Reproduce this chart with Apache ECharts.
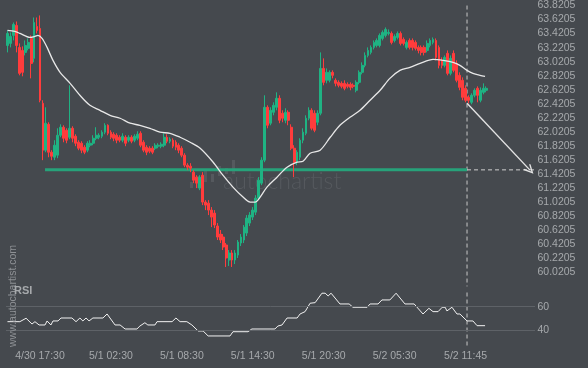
<!DOCTYPE html>
<html><head><meta charset="utf-8">
<script src="https://cdn.jsdelivr.net/npm/echarts@6/dist/echarts.min.js"></script>
<style>html,body{margin:0;padding:0;background:#45494e;}#c{width:588px;height:368px;}</style>
</head><body><div id="c"></div>
<script>
// [open, close, low, high]
const candles = [
[63.252,63.423,63.153,63.466],[63.281,63.380,63.224,63.437],[63.395,63.551,63.323,63.579],[63.537,63.252,63.153,63.593],[63.224,62.854,62.826,63.281],
[63.181,62.869,62.812,63.238],[63.153,63.252,63.110,63.323],[63.210,63.295,63.181,63.352],[63.352,62.996,62.783,63.395],[63.068,63.579,63.011,63.650],
[63.522,63.466,63.423,63.650],[63.494,62.471,62.442,63.679],[62.428,61.760,61.618,62.471],[61.760,62.144,61.731,62.371],[62.129,61.731,61.660,62.158],
[61.731,61.674,61.618,61.760],[61.660,61.831,61.618,61.902],[61.689,61.973,61.646,62.072],[61.973,62.087,61.944,62.129],[62.087,61.930,61.873,62.115],
[62.044,61.902,61.859,62.072],[61.944,62.072,61.916,62.684],[62.072,61.930,61.873,62.101],[61.959,61.859,61.817,61.987],[61.873,61.788,61.760,61.902],
[61.859,61.760,61.717,61.888],[61.802,61.731,61.703,61.831],[61.760,61.859,61.731,61.888],[61.831,61.859,61.802,61.902],[61.859,61.930,61.831,61.973],
[61.930,61.973,61.902,62.087],[61.944,61.973,61.916,62.001],[61.959,62.016,61.930,62.044],[62.016,62.115,61.987,62.144],[62.115,62.001,61.973,62.129],
[62.016,61.944,61.916,62.044],[61.987,61.930,61.888,62.016],[61.973,61.902,61.859,62.001],[61.944,61.902,61.873,61.973],[61.902,61.959,61.873,62.001],
[61.944,61.859,61.817,61.973],[61.902,61.944,61.873,61.973],[61.944,61.888,61.859,61.973],[61.902,61.959,61.873,61.987],[61.930,61.987,61.902,62.030],
[62.001,61.831,61.802,62.030],[61.873,61.760,61.731,61.902],[61.802,61.731,61.689,61.831],[61.788,61.746,61.717,61.817],[61.788,61.731,61.703,61.817],
[61.788,61.831,61.760,61.859],[61.817,61.831,61.788,61.859],[61.817,61.845,61.788,61.873],[61.831,61.944,61.802,62.001],[61.944,61.888,61.859,61.987],
[61.888,61.916,61.859,61.944],[61.902,61.817,61.788,61.930],[61.873,61.802,61.760,61.902],[61.831,61.760,61.717,61.859],[61.788,61.689,61.660,61.817],
[61.689,61.547,61.518,61.717],[61.547,61.518,61.476,61.575],[61.532,61.504,61.447,61.575],[61.447,61.333,61.291,61.476],[61.376,61.291,61.220,61.404],
[61.220,61.376,61.191,61.404],[61.404,61.021,60.978,61.447],[61.021,60.978,60.907,61.049],[61.006,60.907,60.836,61.049],[60.907,60.807,60.665,60.950],
[60.864,60.694,60.651,60.907],[60.680,60.523,60.481,60.722],[60.566,60.481,60.438,60.623],[60.523,60.381,60.338,60.566],[60.410,60.225,60.097,60.438],
[60.196,60.296,60.111,60.338],[60.296,60.196,60.097,60.338],[60.196,60.296,60.139,60.338],[60.267,60.452,60.225,60.481],[60.438,60.523,60.395,60.566],
[60.481,60.665,60.438,60.694],[60.580,60.793,60.537,60.836],[60.722,60.836,60.680,60.878],[60.807,60.907,60.765,60.950],[60.878,61.077,60.836,61.120],
[61.077,61.333,61.049,61.376],[61.291,61.618,61.262,61.660],[61.618,62.371,61.589,62.542],[62.371,62.115,62.072,62.399],[62.144,62.328,62.115,62.371],
[62.300,62.399,62.257,62.442],[62.371,62.499,62.328,62.584],[62.499,62.186,62.144,62.542],[62.286,62.215,62.158,62.328],[62.186,62.300,62.144,62.357],
[62.300,62.186,62.115,62.328],[62.087,61.788,61.760,62.129],[61.788,61.589,61.376,61.831],[61.589,61.731,61.547,61.760],[61.660,61.902,61.618,61.930],
[61.902,62.016,61.859,62.072],[62.001,62.215,61.973,62.257],[62.215,62.328,62.186,62.371],[62.328,62.072,62.044,62.357],[62.286,62.044,62.016,62.328],
[62.158,62.286,62.115,62.328],[62.286,62.925,62.257,63.153],[62.925,62.726,62.684,63.068],[62.755,62.869,62.712,62.925],[62.755,62.869,62.726,62.897],
[62.869,62.826,62.783,62.897],[62.755,62.712,62.669,62.783],[62.726,62.684,62.655,62.755],[62.712,62.669,62.641,62.740],[62.712,62.641,62.613,62.755],
[62.698,62.669,62.641,62.726],[62.698,62.655,62.613,62.726],[62.684,62.669,62.641,62.712],[62.613,62.726,62.584,62.755],[62.726,62.869,62.698,62.897],
[62.869,62.968,62.840,63.011],[62.968,63.110,62.940,63.153],[63.110,63.181,63.082,63.224],[63.153,63.224,63.124,63.252],[63.224,63.295,63.195,63.323],
[63.252,63.323,63.224,63.352],[63.252,63.395,63.224,63.423],[63.352,63.437,63.323,63.466],[63.395,63.480,63.366,63.508],[63.423,63.437,63.395,63.480],
[63.423,63.295,63.267,63.451],[63.323,63.380,63.295,63.409],[63.366,63.423,63.338,63.451],[63.423,63.281,63.252,63.451],[63.338,63.281,63.252,63.366],
[63.224,63.295,63.195,63.323],[63.323,63.224,63.195,63.352],[63.323,63.224,63.181,63.352],[63.295,63.210,63.181,63.323],[63.224,63.181,63.139,63.252],
[63.224,63.153,63.110,63.252],[63.224,63.153,63.110,63.252],[63.181,63.281,63.153,63.323],[63.252,63.323,63.224,63.352],[63.295,63.338,63.267,63.366],
[63.323,63.082,63.039,63.352],[63.224,62.968,62.925,63.252],[63.039,62.968,62.925,63.082],[62.968,63.082,62.940,63.110],[63.139,62.854,62.826,63.181],
[62.854,63.068,62.826,63.110],[63.139,62.897,62.869,63.181],[62.996,62.755,62.726,63.039],[62.826,62.655,62.613,62.869],[62.755,62.513,62.471,62.797],
[62.641,62.471,62.442,62.684],[62.513,62.471,62.428,62.542],[62.442,62.542,62.414,62.570],[62.542,62.613,62.513,62.641],[62.641,62.542,62.442,62.669],
[62.471,62.613,62.442,62.655],[62.584,62.641,62.556,62.712],[62.613,62.641,62.584,62.669]
];

// moving average: [bar index, value]
const maPoints = [
[0,63.466],[2.5,63.451],[4.2,63.423],[7.6,63.366],[9.3,63.380],[10.3,63.395],[11.7,63.352],[13.4,63.224],[15.4,63.039],[17.8,62.869],
[21.2,62.712],[24.5,62.542],[27.9,62.399],[31.3,62.328],[34.7,62.257],[38.1,62.215],[41.5,62.144],[44.8,62.115],[48.2,62.072],[51.6,62.016],
[55.0,62.001],[58.4,61.944],[61.8,61.873],[65.2,61.788],[69.6,61.589],[72.9,61.404],[76.3,61.234],[79.7,61.092],[82.1,61.021],[83.8,61.021],
[85.5,61.092],[87.8,61.234],[91.2,61.376],[94.6,61.518],[98.0,61.589],[100.0,61.603],[102.4,61.717],[105.8,61.760],[109.2,61.944],[112.5,62.115],
[115.9,62.229],[119.3,62.328],[122.7,62.471],[126.1,62.613],[129.4,62.783],[132.8,62.897],[136.2,62.940],[139.6,62.996],[144.0,63.053],[147.4,63.039],
[150.8,63.011],[153.1,62.968],[155.5,62.897],[157.5,62.854],[159.9,62.826],[161.6,62.812]
];

// RSI: [bar index, value]
const rsiPoints = [
[0,47.3],[4.2,47.3],[6.3,50.2],[8.3,45.3],[9.3,47.3],[10.7,44.5],[12.7,44.5],[13.4,47.9],[14.7,44.5],[15.4,47.9],
[17.1,47.9],[18.1,50.4],[21.8,50.4],[23.2,47.3],[24.5,50.4],[25.5,47.9],[26.6,50.4],[27.6,47.9],[28.9,50.4],[32.3,50.4],
[33.7,53.8],[36.4,44.5],[38.1,44.5],[39.8,41.1],[43.8,41.1],[44.8,43.6],[46.5,46.4],[47.5,44.5],[49.9,44.5],[50.6,47.3],
[55.7,47.3],[57.0,50.4],[58.4,47.3],[60.7,47.3],[62.4,44.5],[64.5,39.4],[66.2,39.4],[67.9,35.2],[75.3,35.2],[76.3,38.8],
[81.4,38.8],[82.7,41.1],[90.5,41.1],[91.5,43.6],[92.9,44.5],[94.6,50.4],[98.0,50.4],[99.0,53.8],[100.7,55.8],[102.4,62.9],
[104.1,63.4],[106.4,71.4],[107.5,71.4],[108.5,69.1],[109.5,71.4],[112.5,62.3],[115.6,62.3],[116.9,59.5],[121.7,59.5],[122.7,62.3],
[125.4,62.3],[126.7,65.7],[129.4,65.7],[131.5,71.4],[134.5,62.3],[137.6,62.3],[140.6,53.8],[142.6,58.6],[144.0,55.8],[145.7,55.8],
[147.1,59.5],[148.1,59.5],[148.7,56.4],[150.4,59.5],[152.1,53.8],[153.1,53.8],[155.5,47.9],[157.5,47.9],[158.9,43.9],[161.6,43.9]
];

const slotCount = 179;
const priceTicks = [60.0205,60.2205,60.4205,60.6205,60.8205,61.0205,61.2205,61.4205,61.6205,61.8205,62.0205,62.2205,62.4205,62.6205,62.8205,63.0205,63.2205,63.4205,63.6205,63.8205];
const rsiTicks = [40, 60];
const timeTickIndex = [11, 35, 59, 83, 107, 131, 155];
const timeTickLabels = ['4/30 17:30','5/1 02:30','5/1 08:30','5/1 14:30','5/1 20:30','5/2 05:30','5/2 11:45'];

const supportLevel = 61.48;
const supportStartIndex = 12.7;
const patternEndIndex = 155.5;
const forecastStart = [155.5, 62.428];
const forecastEnd = [176.8, 61.476];

const priceMin = 59.8205, priceMax = 63.8916;
const rsiMin = 30, rsiMax = 72;

const categories = Array.from({length: slotCount}, (_, i) => String(i));
const FONT = '"Liberation Sans", Arial, sans-serif';
const GREEN = '#1fb383', RED = '#ff3c3c', LABEL = '#a6a9ac';
const chevron = 'path://M5,0 L10,9 L8.8,10 L5,3 L1.2,10 L0,9 Z';

const chart = echarts.init(document.getElementById('c'), null, {renderer: 'canvas'});
chart.setOption({
  backgroundColor: '#45494e',
  animation: false,
  grid: [
    {left: 6, right: 53, top: 0, height: 286.4},
    {left: 6, right: 53, top: 292.5, height: 49.6}
  ],
  xAxis: [
    {type: 'category', gridIndex: 0, data: categories, boundaryGap: true, show: false},
    {type: 'value', gridIndex: 0, min: -0.5, max: slotCount - 0.5, show: false},
    {type: 'value', gridIndex: 1, min: -0.5, max: slotCount - 0.5,
      axisLine: {show: false}, axisTick: {show: false}, splitLine: {show: false},
      axisLabel: {customValues: timeTickIndex, color: LABEL, fontSize: 10.5, fontFamily: FONT, margin: 9,
        formatter: v => { const k = timeTickIndex.indexOf(Math.round(v)); return k >= 0 ? timeTickLabels[k] : ''; }}}
  ],
  yAxis: [
    {type: 'value', gridIndex: 0, position: 'right', min: priceMin, max: priceMax,
      axisLine: {show: false}, axisTick: {show: false}, splitLine: {show: false},
      axisLabel: {customValues: priceTicks, color: LABEL, fontSize: 10.5, fontFamily: FONT, margin: 2.5,
        formatter: v => Number(v).toFixed(4)}},
    {type: 'value', gridIndex: 1, position: 'right', min: rsiMin, max: rsiMax,
      axisLine: {show: false}, axisTick: {show: false}, splitLine: {show: false},
      axisLabel: {customValues: rsiTicks, color: LABEL, fontSize: 10.5, fontFamily: FONT, margin: 2.5}}
  ],
  series: [
    {type: 'line', xAxisIndex: 1, yAxisIndex: 0, silent: true, symbol: 'none', z: 3,
      data: [[supportStartIndex, supportLevel], [patternEndIndex, supportLevel]],
      lineStyle: {color: '#27a27a', width: 3},
      markLine: {silent: true, symbol: ['none', chevron], symbolSize: [9, 10], label: {show: false},
        lineStyle: {color: '#e4e4e4', width: 1.4, type: 'solid'},
        data: [[{coord: forecastStart}, {coord: forecastEnd}]]}},
    {type: 'line', xAxisIndex: 1, yAxisIndex: 0, silent: true, symbol: 'none', z: 3,
      data: [[patternEndIndex, supportLevel], [slotCount - 0.5, supportLevel]],
      lineStyle: {color: '#d0d0d0', width: 1, type: [4, 3]}},
    {type: 'line', xAxisIndex: 1, yAxisIndex: 0, silent: true, symbol: 'none', z: 1,
      data: [[patternEndIndex, 63.82], [patternEndIndex, priceMin]],
      lineStyle: {color: '#c8c8c8', width: 1, type: [4, 3]}},
    {type: 'candlestick', xAxisIndex: 0, yAxisIndex: 0, data: candles, barWidth: 2.3, z: 4,
      itemStyle: {color: GREEN, color0: RED, borderColor: GREEN, borderColor0: RED, borderWidth: 1}},
    {type: 'line', xAxisIndex: 1, yAxisIndex: 0, silent: true, symbol: 'none', smooth: 0.3, z: 5,
      data: maPoints, lineStyle: {color: '#e8e8e8', width: 1.3}},
    {type: 'line', xAxisIndex: 2, yAxisIndex: 1, silent: true, symbol: 'none', clip: false, z: 3,
      data: rsiPoints, lineStyle: {color: '#f2f2f2', width: 1},
      markLine: {silent: true, symbol: 'none', label: {show: false},
        lineStyle: {color: '#5e6267', width: 1, type: 'solid'},
        data: rsiTicks.map(v => ({yAxis: v}))}},
    {type: 'line', xAxisIndex: 2, yAxisIndex: 1, silent: true, symbol: 'none', clip: false, z: 2,
      data: [[patternEndIndex, rsiMax], [patternEndIndex, 26]],
      lineStyle: {color: '#c8c8c8', width: 1, type: [4, 3]}}
  ],
  graphic: [
    {type: 'text', left: 223, top: 170, z: 0, silent: true,
      style: {text: 'autochartist', fill: '#55595e', font: '300 23px Lato, "Open Sans", sans-serif'}},
    {type: 'group', left: 190, top: 160, z: 0, silent: true, children: [
      {type: 'rect', shape: {x: 0, y: 22, width: 3, height: 6}, style: {fill: '#55595e'}},
      {type: 'rect', shape: {x: 7, y: 16, width: 3, height: 12}, style: {fill: '#55595e'}},
      {type: 'rect', shape: {x: 14, y: 10, width: 3, height: 12}, style: {fill: '#55595e'}},
      {type: 'rect', shape: {x: 21, y: 14, width: 3, height: 8}, style: {fill: '#55595e'}},
      {type: 'rect', shape: {x: 28, y: 6, width: 3, height: 10}, style: {fill: '#55595e'}},
      {type: 'rect', shape: {x: 35, y: 8, width: 3, height: 6}, style: {fill: '#55595e'}},
      {type: 'rect', shape: {x: 42, y: 0, width: 3, height: 14}, style: {fill: '#55595e'}}
    ]},
    {type: 'text', x: 8, y: 347, rotation: Math.PI / 2, z: 10, silent: true,
      style: {text: 'www.autochartist.com', fill: '#8e9195', font: '10.5px "Liberation Sans", Arial, sans-serif', textVerticalAlign: 'top'}},
    {type: 'text', left: 14, top: 285, z: 10, silent: true,
      style: {text: 'RSI', fill: '#a6a9ac', font: 'bold 11px "Liberation Sans", Arial, sans-serif'}}
  ]
});
</script></body></html>
